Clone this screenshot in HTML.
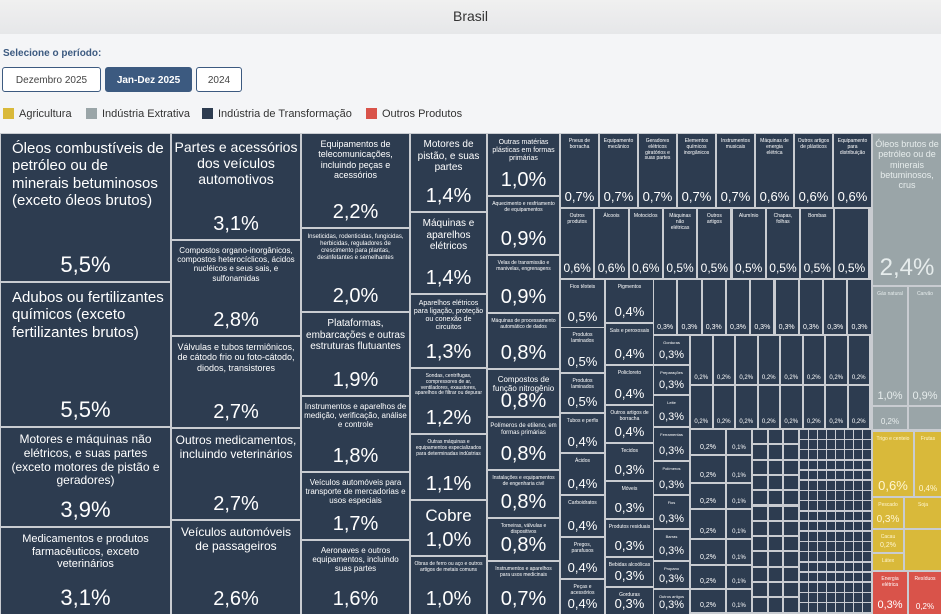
<!DOCTYPE html>
<html><head><meta charset="utf-8"><style>
body{margin:0;width:941px;height:614px;overflow:hidden;background:#f4f5f7;font-family:"Liberation Sans",sans-serif;position:relative}
.hdr{position:absolute;left:0;top:0;width:941px;height:34px;background:linear-gradient(#f0f0f0,#e6e7e9);text-align:center;line-height:33px;font-size:14px;color:#333}
.sel{position:absolute;left:3px;top:48px;font-size:10px;font-weight:bold;color:#3c5a80}
.btn{position:absolute;top:67px;height:25px;border:1px solid #3c5a80;border-radius:3px;background:#fff;font-size:10px;color:#444;text-align:center;line-height:25px;box-sizing:border-box}
.leg{position:absolute;top:108px;font-size:11px;color:#333}
.leg i{display:inline-block;width:11px;height:11px;vertical-align:-2px;margin-right:5px}
#tm{position:absolute;left:0;top:133px;width:941px;height:481px;background:#c9ccd1}
.c{position:absolute;background:#2d3c50;color:#fff;box-sizing:border-box;text-align:center;overflow:hidden}
.c .l{padding:5px 2px 0;line-height:1.15}
.c .p{position:absolute;left:0;right:0;bottom:3px}
</style></head><body>
<div class="hdr">Brasil</div>
<div class="sel">Selecione o período:</div>
<div class="btn" style="left:2px;width:99px">Dezembro 2025</div>
<div class="btn" style="left:105px;width:87px;background:#3c5a80;color:#fff;font-weight:bold">Jan-Dez 2025</div>
<div class="btn" style="left:196px;width:46px">2024</div>
<div class="leg" style="left:3px"><i style="background:#d9b93a"></i>Agricultura</div>
<div class="leg" style="left:86px"><i style="background:#9aa5a8"></i>Indústria Extrativa</div>
<div class="leg" style="left:202px"><i style="background:#2d3c50"></i>Indústria de Transformação</div>
<div class="leg" style="left:366px"><i style="background:#d9534a"></i>Outros Produtos</div>
<div id="tm"></div>
<script>
var tm=document.getElementById('tm');
function c(x,y,w,h,l,p,fs,pfs,bg,col,al){var d=document.createElement('div');d.className='c';
d.style.cssText='left:'+x+'px;top:'+(y-133)+'px;width:'+w+'px;height:'+h+'px;'+(bg?'background:'+bg+';':'')+(col?'color:'+col+';':'');
d.innerHTML='<div class="l" style="font-size:'+fs+'px;'+(al?'text-align:left;padding:6px 2px 0 11px':'')+'">'+(l||'')+'</div>'+(p?'<div class="p" style="font-size:'+pfs+'px">'+p+'</div>':'');tm.appendChild(d);}
c(1,134,169,147,'Óleos combustíveis de petróleo ou de minerais betuminosos (exceto óleos brutos)','5,5%',15,22,0,0,1);
c(1,283,169,143,'Adubos ou fertilizantes químicos (exceto fertilizantes brutos)','5,5%',15,22,0,0,1);
c(1,428,169,98,'Motores e máquinas não elétricos, e suas partes (exceto motores de pistão e geradores)','3,9%',12,22);
c(1,528,169,86,'Medicamentos e produtos farmacêuticos, exceto veterinários','3,1%',11,22);
c(172,134,128,105,'Partes e acessórios dos veículos automotivos','3,1%',14,20);
c(172,241,128,94,'Compostos organo-inorgânicos, compostos heterocíclicos, ácidos nucléicos e seus sais, e sulfonamidas','2,8%',8,20);
c(172,337,128,90,'Válvulas e tubos termiônicos, de cátodo frio ou foto-cátodo, diodos, transistores','2,7%',9,20);
c(172,429,128,90,'Outros medicamentos, incluindo veterinários','2,7%',12,20);
c(172,521,128,93,'Veículos automóveis de passageiros','2,6%',12,20);
c(302,134,107,93,'Equipamentos de telecomunicações, incluindo peças e acessórios','2,2%',9,20);
c(302,229,107,82,'Inseticidas, rodenticidas, fungicidas, herbicidas, reguladores de crescimento para plantas, desinfetantes e semelhantes','2,0%',6,20);
c(302,313,107,82,'Plataformas, embarcações e outras estruturas flutuantes','1,9%',10,20);
c(302,397,107,74,'Instrumentos e aparelhos de medição, verificação, análise e controle','1,8%',8,20);
c(302,473,107,66,'Veículos automóveis para transporte de mercadorias e usos especiais','1,7%',8,20);
c(302,541,107,73,'Aeronaves e outros equipamentos, incluindo suas partes','1,6%',8,20);
c(411,134,75,77,'Motores de pistão, e suas partes','1,4%',10,20);
c(411,213,75,80,'Máquinas e aparelhos elétricos','1,4%',10,20);
c(411,295,75,72,'Aparelhos elétricos para ligação, proteção ou conexão de circuitos','1,3%',7,20);
c(411,369,75,64,'Sondas, centrífugas, compressores de ar, ventiladores, exaustores, aparelhos de filtrar ou depurar','1,2%',5,20);
c(411,435,75,64,'Outras máquinas e equipamentos especializados para determinadas indústrias','1,1%',5,20);
c(411,501,75,54,'Cobre','1,0%',17,20);
c(411,557,75,57,'Obras de ferro ou aço e outros artigos de metais comuns','1,0%',5,20);
var c5=[[134,61,'Outras matérias plásticas em formas primárias','1,0%',7],[197,57,'Aquecimento e resfriamento de equipamentos','0,9%',5],[256,56,'Velas de transmissão e manivelas, engrenagens','0,9%',5],[314,54,'Máquinas de processamento automático de dados','0,8%',5],[370,46,'Compostos de função nitrogênio','0,8%',8],[418,51,'Polímeros de etileno, em formas primárias','0,8%',6],[471,46,'Instalações e equipamentos de engenharia civil','0,8%',5],[519,41,'Torneiras, válvulas e dispositivos','0,8%',5],[562,52,'Instrumentos e aparelhos para usos medicinais','0,7%',5]];
c5.forEach(function(a){c(488,a[0],71,a[1],a[2],a[3],a[4],20);});
var r1=['0,7%','0,7%','0,7%','0,7%','0,7%','0,6%','0,6%','0,6%'],r1l=['Pneus de borracha','Equipamento mecânico','Geradores elétricos giratórios e suas partes','Elementos químicos inorgânicos','Instrumentos musicais','Máquinas de energia elétrica','Outros artigos de plásticos','Equipamento para distribuição'];
for(var i=0;i<8;i++)c(561+i*39,134,37,73,r1l[i],r1[i],5,13);
var r2=['0,6%','0,6%','0,6%','0,5%','0,5%','0,5%','0,5%','0,5%','0,5%'];
for(var i=0;i<9;i++)c(561+i*34.3,209,32.3,69,['Outros produtos','Álcoois','Motociclos','Máquinas não elétricas','Outros artigos','Alumínio','Chapas, folhas','Bombas',''][i],r2[i],5,12);
var a=[[280,'Fios têxteis','0,5%',47],[328,'Produtos laminados','0,5%',44],[374,'Produtos laminados','0,5%',38],[414,'Tubos e perfis','0,4%',38],[454,'Ácidos','0,4%',40],[496,'Carboidratos','0,4%',40],[538,'Pregos, parafusos','0,4%',40],[580,'Peças e acessórios','0,4%',34]];
a.forEach(function(b){c(561,b[0],43,b[3],b[1],b[2],5,13);});
var b2=[[280,'Pigmentos','0,4%',42],[324,'Sais e peroxosais','0,4%',40],[366,'Policloreto','0,4%',38],[406,'Outros artigos de borracha','0,4%',36],[444,'Tecidos','0,3%',36],[482,'Móveis','0,3%',36],[520,'Produtos residuais','0,3%',36],[558,'Bebidas alcoólicas','0,3%',28],[588,'Gorduras','0,3%',26]];
b2.forEach(function(b){c(606,b[0],47,b[3],b[1],b[2],5,13);});
var b3=[[336,'Gorduras','0,3%',28],[366,'Preparações','0,3%',28],[396,'Leite','0,3%',30],[428,'Ferramentas','0,3%',32],[462,'Polímeros','0,3%',32],[496,'Fios','0,3%',32],[530,'Barras','0,3%',30],[562,'Propano','0,3%',26],[590,'Outros artigos','0,3%',24]];
b3.forEach(function(b){c(654,b[0],35,b[3],b[1],b[2],4,11);});
for(var i=0;i<9;i++){c(654+i*24.3,280,22.3,54,'','0,3%',4,7);}
for(var i=0;i<8;i++)c(691+i*22.5,336,20.5,48,'','0,2%',4,6);
for(var i=0;i<8;i++)c(691+i*22.5,386,20.5,42,'','0,2%',4,6);
var ys=[430,456,484,510,540,566,590];
for(var k=0;k<7;k++){c(691,ys[k],34,(ys[k+1]||614)-ys[k]-2,'','0,2%',4,7);c(727,ys[k],24,(ys[k+1]||614)-ys[k]-2,'','0,1%',4,6);}
for(var i=0;i<3;i++)for(var j=0;j<12;j++){c(753+i*15.5,430+j*15.3,13.5,13.3,'','',4,6);}
for(var i=0;i<8;i++)for(var j=0;j<18;j++){c(800+i*9,430+j*10.2,7.5,8.5,'','',4,6);}
c(873,134,68,151,'Óleos brutos de petróleo ou de minerais betuminosos, crus','2,4%',9,24,'#9aa5a8','#e6ecec');
c(873,287,34,118,'Gás natural','1,0%',5,11,'#9aa5a8','#e6ecec');
c(909,287,32,118,'Carvão','0,9%',5,11,'#9aa5a8','#e6ecec');
c(873,407,34,22,'','0,2%',5,8,'#9aa5a8','#e6ecec');
c(909,407,32,22,'','',5,8,'#9aa5a8','#e6ecec');
var Y='#d9b93a';
c(873,432,40,64,'Trigo e centeio','0,6%',5,13,Y,'#fff6d0');
c(915,432,26,64,'Frutas','0,4%',5,8,Y,'#fff6d0');
c(873,498,30,30,'Pescado','0,3%',5,10,Y,'#fff6d0');
c(905,498,36,30,'Soja','',5,8,Y,'#fff6d0');
c(873,530,30,22,'Cacau','0,2%',5,7,Y,'#fff6d0');
c(873,554,30,16,'Látex','',5,6,Y,'#fff6d0');
c(905,530,36,40,'','',5,6,Y);
var R='#d9534a';
c(873,572,34,42,'Energia elétrica','0,3%',5,11,R);
c(909,572,32,42,'Resíduos','0,2%',5,8,R);
</script>
</body></html>
